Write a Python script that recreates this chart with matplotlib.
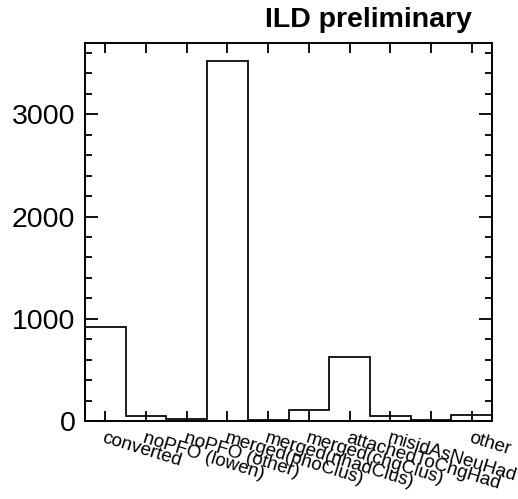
import matplotlib
matplotlib.use("Agg")
import matplotlib.pyplot as plt
import numpy as np
from matplotlib.ticker import MultipleLocator, FixedLocator

plt.rcParams['font.family'] = ['Liberation Sans', 'DejaVu Sans']

categories = ["converted", "noPFO (lowen)", "noPFO (other)", "merged(phoClus)",
              "merged(nhadClus)", "merged(chgClus)", "attachedToChgHad",
              "misidAsNeuHad", "", "other"]
counts = [920, 48, 18, 3525, 14, 110, 622, 52, 14, 60]
title = "ILD preliminary"

fig = plt.figure(figsize=(5.18, 4.99), dpi=100)
ax = fig.add_axes([85/518, 1-421/499, (492-85)/518, (421-42.7)/499])

n = len(counts)
edges = np.arange(n + 1)
ax.stairs(counts, edges, color='black', linewidth=1.25, baseline=0)

ax.set_xlim(0, n)
ax.set_ylim(0, 3700)

for s in ax.spines.values():
    s.set_linewidth(1.4)

ax.yaxis.set_major_locator(MultipleLocator(1000))
ax.yaxis.set_minor_locator(MultipleLocator(200))
ax.tick_params(axis='y', which='major', direction='in', length=9.5, width=1.3,
               left=True, right=True, labelsize=20.5, pad=7)
ax.tick_params(axis='y', which='minor', direction='in', length=4.8, width=1.3,
               left=True, right=True)

centers = np.arange(n) + 0.5
ax.xaxis.set_major_locator(FixedLocator(centers))
ax.set_xticklabels(categories)
ax.tick_params(axis='x', which='major', direction='in', length=7.2, width=1.3,
               top=True, bottom=True, labelsize=13.5, pad=6)
for lbl in ax.get_xticklabels():
    lbl.set_rotation(-17)
    lbl.set_ha('left')
    lbl.set_va('top')
    lbl.set_rotation_mode('anchor')

fig.text(472/518, 1-27/499, title, ha='right', va='baseline',
         fontsize=20.5, fontweight='bold')

fig.savefig("out.png", dpi=100)
